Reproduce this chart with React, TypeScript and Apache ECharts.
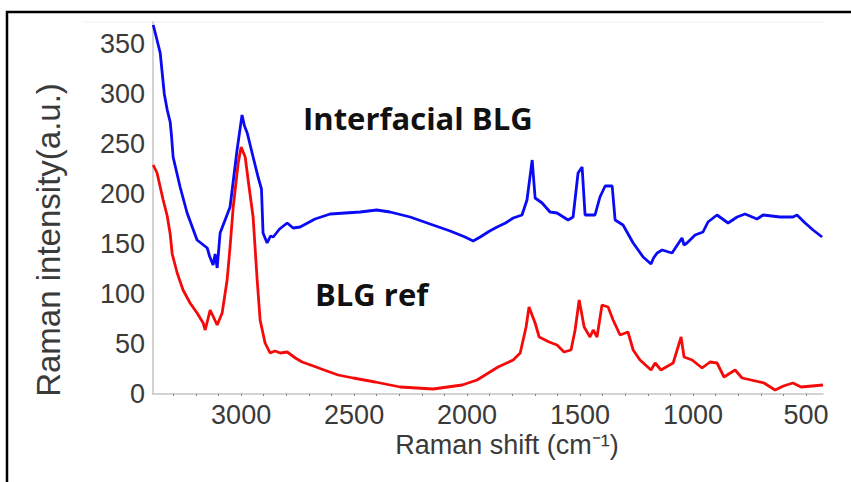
import React, { useEffect, useRef } from "react";
import * as echarts from "echarts";

const blueShift = [3389, 3381, 3358, 3340, 3327, 3314, 3308, 3301, 3270, 3239, 3195, 3150, 3140, 3124, 3115, 3106, 3093, 3049, 3018, 2996, 2985, 2973, 2947, 2925, 2910, 2903, 2885, 2870, 2858, 2830, 2796, 2770, 2739, 2673, 2606, 2473, 2400, 2341, 2252, 2164, 2075, 2009, 1973, 1942, 1900, 1867, 1830, 1796, 1757, 1735, 1712, 1699, 1668, 1633, 1602, 1553, 1531, 1509, 1491, 1478, 1434, 1412, 1389, 1358, 1345, 1310, 1265, 1221, 1186, 1175, 1159, 1137, 1093, 1049, 1040, 1027, 991, 956, 934, 894, 845, 805, 770, 717, 690, 615, 558, 540, 504, 469, 429];
const blueIntensity = [369, 362, 341, 300, 284, 272, 258, 237, 207, 181, 154, 146, 138, 129, 140, 126, 161, 187, 244, 279, 268, 261, 237, 217, 205, 161, 151, 158, 157, 165, 171, 166, 167, 175, 180, 182, 184, 182, 177, 170, 163, 157, 153, 157, 163, 167, 171, 176, 179, 194, 234, 196, 191, 182, 181, 174, 177, 221, 227, 179, 179, 197, 208, 208, 174, 169, 151, 137, 130, 136, 141, 144, 141, 156, 149, 151, 159, 162, 172, 179, 171, 177, 180, 175, 179, 177, 177, 179, 171, 164, 157];

const redShift = [3389, 3372, 3358, 3345, 3327, 3314, 3305, 3283, 3257, 3226, 3195, 3168, 3159, 3137, 3106, 3084, 3062, 3049, 3035, 3013, 3000, 2982, 2969, 2947, 2929, 2916, 2894, 2872, 2850, 2827, 2796, 2760, 2730, 2668, 2633, 2571, 2504, 2407, 2296, 2150, 2022, 1956, 1863, 1796, 1765, 1739, 1726, 1699, 1681, 1637, 1602, 1571, 1540, 1522, 1504, 1482, 1456, 1442, 1425, 1403, 1376, 1354, 1323, 1288, 1265, 1235, 1186, 1168, 1142, 1088, 1053, 1040, 1004, 960, 925, 894, 863, 814, 783, 686, 637, 600, 558, 522, 425];
const redIntensity = [229, 221, 207, 194, 178, 160, 140, 121, 104, 91, 81, 71, 64, 84, 69, 81, 114, 147, 187, 231, 247, 237, 214, 177, 114, 74, 51, 41, 43, 41, 42, 36, 32, 27, 24, 19, 16, 12, 7, 5, 9, 14, 27, 34, 41, 67, 87, 71, 57, 52, 49, 42, 44, 64, 94, 67, 57, 64, 57, 89, 87, 74, 59, 62, 44, 34, 24, 31, 24, 31, 57, 37, 34, 26, 32, 31, 17, 24, 16, 11, 4, 8, 11, 7, 9];

const xLabelValues = [3000, 2500, 2000, 1500, 1000, 500];
const xTickValues = [500, 600, 700, 800, 900, 1000, 1100, 1200, 1300, 1400, 1500, 1600, 1700, 1800, 1900, 2000, 2100, 2200, 2300, 2400, 2500, 2600, 2700, 2800, 2900, 3000, 3100, 3200, 3300];
const yLabelValues = [0, 50, 100, 150, 200, 250, 300, 350];

const seriesNames = ["Interfacial BLG", "BLG ref"];

export default function App() {
  const ref = useRef<HTMLDivElement>(null);
  useEffect(() => {
    if (!ref.current) return;
    const chart = echarts.init(ref.current, undefined, { renderer: "svg" });
    const tickFont = { fontFamily: "Liberation Sans", fontSize: 27, color: "#3a3a3a" };
    chart.setOption({
      animation: false,
      backgroundColor: "#ffffff",
      grid: { left: 153, right: 28, top: 22, bottom: 88 },
      xAxis: {
        type: "value",
        inverse: true,
        min: 425,
        max: 3390,
        axisLine: { show: true, lineStyle: { color: "#c4c4c4", width: 1.5 } },
        axisTick: { show: true, customValues: xTickValues, length: 2, lineStyle: { color: "#888" } },
        axisLabel: { customValues: xLabelValues, margin: 7, formatter: (v: number) => String(v), ...tickFont },
        splitLine: { show: false },
      },
      yAxis: {
        type: "value",
        min: 0,
        max: 372,
        axisLine: { show: true, lineStyle: { color: "#c4c4c4", width: 1.5 } },
        axisTick: { show: false },
        axisLabel: { customValues: yLabelValues, margin: 8, formatter: (v: number) => String(v), ...tickFont },
        splitLine: { show: false },
      },
      series: [
        {
          name: seriesNames[0],
          type: "line",
          data: blueShift.map((s, i) => [s, blueIntensity[i]]),
          showSymbol: false,
          lineStyle: { color: "#0a0af5", width: 2.8 },
          z: 3,
        },
        {
          name: seriesNames[1],
          type: "line",
          data: redShift.map((s, i) => [s, redIntensity[i]]),
          showSymbol: false,
          lineStyle: { color: "#f50a0a", width: 2.8 },
          z: 2,
        },
      ],
      graphic: [
        {
          type: "rect",
          shape: { x: 7, y: 12, width: 1000, height: 600 },
          style: { fill: "none", stroke: "#000", lineWidth: 2.5 },
          silent: true,
        },
        {
          type: "line",
          shape: { x1: 83, y1: 22, x2: 825, y2: 22 },
          style: { stroke: "#efefef", lineWidth: 1 },
          silent: true,
        },
        {
          type: "text",
          x: 303,
          y: 118,
          style: {
            text: seriesNames[0],
            font: "bold 31px 'Open Sans'",
            fill: "#111",
            align: "left",
            verticalAlign: "middle",
          },
        },
        {
          type: "text",
          x: 315,
          y: 294,
          style: {
            text: seriesNames[1],
            font: "bold 31px 'Open Sans'",
            fill: "#111",
            align: "left",
            verticalAlign: "middle",
          },
        },
        {
          type: "text",
          x: 507,
          y: 445,
          style: {
            text: "Raman shift (cm⁻¹)",
            font: "27px 'Liberation Sans'",
            fill: "#3a3a3a",
            align: "center",
            verticalAlign: "middle",
          },
        },
        {
          type: "text",
          x: 48,
          y: 240,
          rotation: Math.PI / 2,
          style: {
            text: "Raman intensity(a.u.)",
            font: "33px 'Liberation Sans'",
            fill: "#3a3a3a",
            align: "center",
            verticalAlign: "middle",
          },
        },
      ],
    });
    return () => chart.dispose();
  }, []);
  return (
    <div
      ref={ref}
      style={{ position: "fixed", left: 0, top: 0, width: 851, height: 482 }}
    />
  );
}
